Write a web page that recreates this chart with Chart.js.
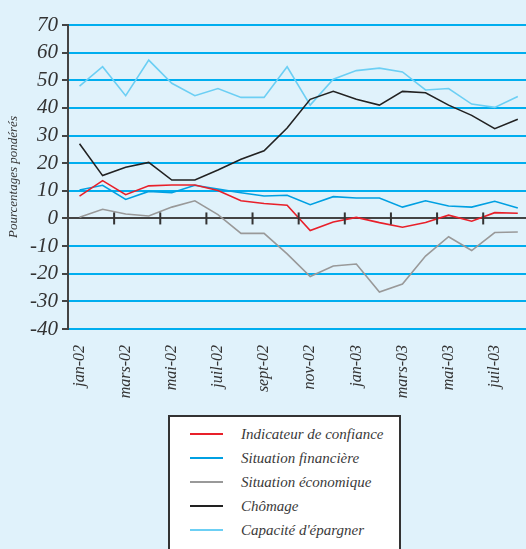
<!DOCTYPE html>
<html>
<head>
<meta charset="utf-8">
<script src="https://cdn.jsdelivr.net/npm/chart.js@4"></script>
<style>
  html, body { margin: 0; padding: 0; background: #e0f2fb; }
  #wrap { position: relative; width: 526px; height: 549px; overflow: hidden; }
  #chart { position: absolute; left: 0; top: 0; }
  #legend {
    position: absolute; left: 168px; top: 415px; width: 233px; height: 150px;
    background: #fff; border: 2px solid #333; box-sizing: border-box;
    font-family: "Liberation Serif", "DejaVu Serif", serif; font-style: italic;
    font-size: 15px; color: #3a3a3a;
  }
  .row { position: absolute; left: 0; height: 20px; line-height: 20px; white-space: nowrap; }
  .row span.swatch { position: absolute; left: 20px; top: 9px; width: 33px; height: 2px; }
  .row span.txt { position: absolute; left: 71px; top: 0; }
</style>
</head>
<body>
<div id="wrap">
  <canvas id="chart" width="545" height="400"></canvas>
  <div id="legend"></div>
</div>
<script>
// months jan-02 .. août-03
const months = ['jan-02', 'févr-02', 'mars-02', 'avr-02', 'mai-02', 'juin-02', 'juil-02', 'août-02', 'sept-02', 'oct-02', 'nov-02', 'déc-02',
  'jan-03', 'févr-03', 'mars-03', 'avr-03', 'mai-03', 'juin-03', 'juil-03', 'août-03'];

const confiance = [8.1, 13.7, 8.6, 11.8, 12.1, 12.1, 10.1, 6.4, 5.4, 4.8, -4.4, -1.3, 0.4, -1.5, -3.2, -1.5, 1.2, -1.0, 2.1, 1.9];
const financiere = [10.3, 12.0, 6.9, 9.8, 9.3, 12.0, 10.6, 9.3, 8.1, 8.4, 5.0, 7.9, 7.4, 7.4, 4.1, 6.4, 4.5, 4.1, 6.2, 3.8];
const economique = [0.4, 3.3, 1.6, 0.9, 4.1, 6.4, 1.4, -5.4, -5.4, -12.8, -21.0, -17.2, -16.5, -26.6, -23.7, -13.6, -6.6, -11.6, -5.1, -4.9];
const chomage = [27.0, 15.5, 18.5, 20.3, 13.9, 13.9, 17.5, 21.4, 24.5, 32.7, 43.1, 46.0, 43.1, 41.0, 46.0, 45.5, 41.0, 37.3, 32.5, 35.9];
const epargner = [47.9, 54.9, 44.4, 57.3, 48.9, 44.4, 47.0, 43.8, 43.8, 54.9, 41.0, 50.4, 53.5, 54.4, 53.0, 46.5, 47.0, 41.4, 40.2, 44.1];

const seriesNames = ['Indicateur de confiance', 'Situation financière', 'Situation économique', 'Chômage', "Capacité d'épargner"];
const seriesColors = ['#e8202a', '#00a0e2', '#999999', '#222222', '#6ccff4'];
const seriesData = [confiance, financiere, economique, chomage, epargner];

const serif = '"Liberation Serif", "DejaVu Serif", serif';

// little tick marks across the zero line, every two months
const zeroTicks = {
  id: 'zeroTicks',
  afterDatasetsDraw(chart) {
    const { ctx, scales: { x, y } } = chart;
    const y0 = y.getPixelForValue(0);
    ctx.save();
    ctx.strokeStyle = '#333';
    ctx.lineWidth = 2;
    for (let i = 2; i < months.length; i += 2) {
      const px = (x.getPixelForValue(i - 1) + x.getPixelForValue(i)) / 2;
      ctx.beginPath();
      ctx.moveTo(px, y0 - 6);
      ctx.lineTo(px, y0 + 6);
      ctx.stroke();
    }
    ctx.restore();
  }
};

const chart = new Chart(document.getElementById('chart'), {
  type: 'line',
  data: {
    labels: months,
    datasets: seriesNames.map((name, i) => ({
      label: name,
      data: seriesData[i],
      borderColor: seriesColors[i],
      backgroundColor: seriesColors[i],
      borderWidth: 1.6,
      pointRadius: 0,
      tension: 0
    }))
  },
  options: {
    responsive: false,
    animation: false,
    layout: { padding: { top: 25, right: 0, left: 0, bottom: 0 } },
    plugins: { legend: { display: false }, tooltip: { enabled: false } },
    scales: {
      x: {
        offset: true,
        grid: { display: false },
        border: { display: false },
        afterFit: (s) => { s.height = 71; },
        ticks: {
          autoSkip: false,
          minRotation: 90,
          maxRotation: 90,
          padding: 8,
          color: '#333',
          font: { family: serif, style: 'italic', size: 16 },
          callback: (v, i) => (i % 2 === 0 ? months[i] : '')
        }
      },
      y: {
        min: -40,
        max: 70,
        afterFit: (s) => { s.width = 68; },
        border: { display: true, color: '#444', width: 2 },
        grid: {
          color: (c) => (c.tick && c.tick.value === 0 ? '#444' : '#00aeef'),
          lineWidth: 2,
          tickLength: 6,
          tickColor: '#444'
        },
        ticks: {
          stepSize: 10,
          autoSkip: false,
          padding: 4,
          color: '#333',
          font: { family: serif, style: 'italic', size: 21 },
          callback: (v) => (v < 0 ? '-' + Math.abs(v) : String(v))
        },
        title: {
          display: true,
          text: 'Pourcentages pondérés',
          color: '#333',
          padding: { top: 6, bottom: 0 },
          font: { family: serif, style: 'italic', size: 13 }
        }
      }
    }
  },
  plugins: [zeroTicks]
});

// legend box, built from the chart's own datasets
const legend = document.getElementById('legend');
chart.data.datasets.forEach((ds, i) => {
  const row = document.createElement('div');
  row.className = 'row';
  row.style.top = (7 + i * 24) + 'px';
  row.innerHTML = '<span class="swatch" style="background:' + ds.borderColor + '"></span><span class="txt">' + ds.label + '</span>';
  legend.appendChild(row);
});
</script>
</body>
</html>
